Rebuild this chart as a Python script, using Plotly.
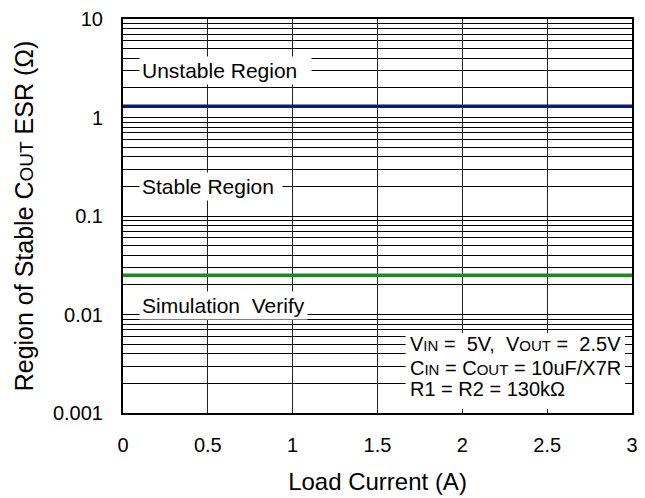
import plotly.graph_objects as go
import numpy as np

load_current = [0, 3]
unstable_esr = [1.3, 1.3]      # ohm, upper boundary (blue)
stable_esr = [0.025, 0.025]    # ohm, lower boundary (green)

x_ticks = [0, 0.5, 1, 1.5, 2, 2.5, 3]
x_ticktext = ["0", "0.5", "1", "1.5", "2", "2.5", "3"]
y_ticks = [0.001, 0.01, 0.1, 1, 10]
y_ticktext = ["0.001", "0.01", "0.1", "1", "10"]

FONT = "Liberation Sans, Arial, sans-serif"

fig = go.Figure()
fig.add_trace(go.Scatter(x=load_current, y=unstable_esr, mode="lines",
                         line=dict(color="#0b1784", width=3.5), showlegend=False))
fig.add_trace(go.Scatter(x=load_current, y=stable_esr, mode="lines",
                         line=dict(color="#129018", width=3.5), showlegend=False))

fig.update_layout(
    width=645, height=498,
    margin=dict(l=123, r=7, t=19, b=79),
    paper_bgcolor="white", plot_bgcolor="white",
    font=dict(family=FONT, color="black", size=20),
)
fig.update_xaxes(
    range=[0, 3], tickvals=x_ticks, ticktext=x_ticktext,
    showgrid=True, gridcolor="#222222", gridwidth=1.3,
    showline=True, linecolor="black", linewidth=2, mirror=True,
    ticks="", ticklabelstandoff=13, ticklabeloverflow="allow", zeroline=False,
    tickfont=dict(size=20),
    title=dict(text="Load Current (A)", font=dict(size=24), standoff=18),
)
fig.update_yaxes(
    type="log", range=[-3, 1], tickvals=y_ticks, ticktext=y_ticktext,
    showgrid=True, gridcolor="black", gridwidth=1,
    minor=dict(showgrid=True, gridcolor="black", gridwidth=1, dtick="D1"),
    showline=True, linecolor="black", linewidth=2, mirror=True,
    ticks="", ticklabelstandoff=14, zeroline=False,
    tickfont=dict(size=20),
    title=dict(text="Region of Stable C<span style='font-size:19px'>OUT</span> ESR (Ω)",
               font=dict(size=25), standoff=12),
)

label_font = dict(family=FONT, size=21, color="black")
fig.add_annotation(x=0.095, y=np.log10(3), xref="x", yref="y", text="Unstable Region&nbsp;&nbsp;",
                   showarrow=False, xanchor="left", yanchor="middle",
                   bgcolor="white", borderpad=2, font=label_font)
fig.add_annotation(x=0.095, y=np.log10(0.2), xref="x", yref="y", text="Stable Region&nbsp;",
                   showarrow=False, xanchor="left", yanchor="middle",
                   bgcolor="white", borderpad=2, font=label_font)
fig.add_annotation(x=0.095, y=-1.91, xref="x", yref="y", text="Simulation&nbsp;&nbsp;Verify",
                   showarrow=False, xanchor="left", yanchor="middle",
                   bgcolor="white", borderpad=2, font=label_font)

# condition box (shapes on log axes take data values)
fig.add_shape(type="rect", xref="x", yref="y", x0=1.666, x1=2.959,
              y0=10 ** -2.96, y1=10 ** -2.19,
              fillcolor="white", line=dict(width=0), layer="above")
sub = "<span style='font-size:15px'>%s</span>"
cond_lines = [
    "V" + sub % "IN" + " =  5V,  V" + sub % "OUT" + " =  2.5V",
    "C" + sub % "IN" + " = C" + sub % "OUT" + " = 10uF/X7R",
    "R1 = R2 = 130kΩ",
]
cond_px = [349, 373, 395]
for t, py in zip(cond_lines, cond_px):
    fig.add_annotation(x=1.68, y=-3 + (419 - py) / 100, xref="x", yref="y", text=t,
                       showarrow=False, xanchor="left", yanchor="middle",
                       font=dict(family=FONT, size=20, color="black"))

fig.write_html("out.html", config={"displayModeBar": False},
               post_script="document.body.style.margin='0';")
